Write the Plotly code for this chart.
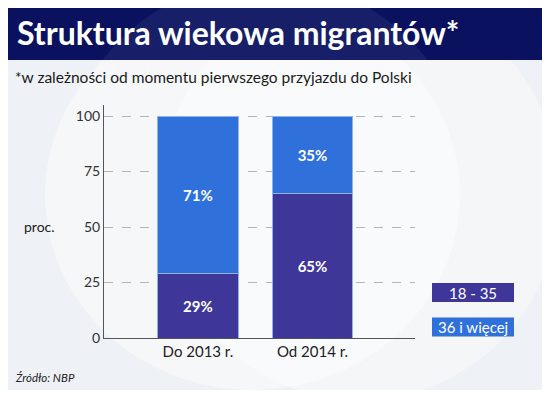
import plotly.graph_objects as go

categories = ["Do 2013 r.", "Od 2014 r."]
young = [29, 65]      # 18 - 35
older = [71, 35]      # 36 i więcej
series_names = ["18 - 35", "36 i więcej"]
y_ticks = [0, 25, 50, 75, 100]

C_YOUNG = "#3f3699"
C_OLD = "#2f70db"
FONT = "Lato"

# page has an 8px body margin -> figure origin at page (8, 8)
OFF = 8
W, H = 550 - OFF, 398 - OFF
PL, PR, PT, PB = 104, 415, 105, 338          # plot area in page pixels


def px(x):
    return (x - PL) / (PR - PL)


def py(y):
    return (PB - y) / (PB - PT)


fig = go.Figure()
fig.add_bar(x=[0, 1], y=young, name=series_names[0], marker_color=C_YOUNG,
            marker_line=dict(color="#8fb2ee", width=1),
            text=[f"{v}%" for v in young], textposition="inside", insidetextanchor="middle",
            textfont=dict(color="white", size=15, family=FONT, weight="bold"),
            width=0.70, showlegend=False)
fig.add_bar(x=[0, 1], y=older, name=series_names[1], marker_color=C_OLD,
            marker_line=dict(color="#8fb2ee", width=1),
            text=[f"{v}%" for v in older], textposition="inside", insidetextanchor="middle",
            textfont=dict(color="white", size=15, family=FONT, weight="bold"),
            width=0.70, showlegend=False)

fig.update_layout(
    barmode="stack",
    width=W, height=H,
    margin=dict(l=PL - OFF, r=W - (PR - OFF), t=PT - OFF, b=H - (PB - OFF)),
    paper_bgcolor="white",
    plot_bgcolor="rgba(0,0,0,0)",
    font=dict(family=FONT, color="#222222"),
    xaxis=dict(range=[-0.82, 1.895], tickmode="array", tickvals=[0, 1], ticktext=categories,
               showgrid=False, zeroline=False, showline=True, linecolor="#555555",
               tickfont=dict(size=15, color="#222222"), ticks=""),
    yaxis=dict(range=[0, 105], tickvals=y_ticks, showgrid=True, gridcolor="#b5b5b5",
               griddash="dash", gridwidth=1, zeroline=False, showline=True, linecolor="#555555",
               ticks="", tickfont=dict(size=14, color="#333333")),
)

# card background
fig.add_shape(type="rect", xref="paper", yref="paper", layer="below",
              x0=px(8), x1=px(542), y0=py(390), y1=py(0),
              fillcolor="#eef1f5", line_width=0)
# faint watermark circles
fig.add_shape(type="circle", xref="paper", yref="paper", layer="below",
              x0=px(45), x1=px(460), y0=py(390), y1=py(0),
              fillcolor="rgba(255,255,255,0.45)", line_width=0)
fig.add_shape(type="circle", xref="paper", yref="paper", layer="below",
              x0=px(160), x1=px(560), y0=py(400), y1=py(-10),
              fillcolor="rgba(255,255,255,0.35)", line_width=0)
# title bar
fig.add_shape(type="rect", xref="paper", yref="paper", layer="below",
              x0=px(8), x1=px(542), y0=py(60), y1=py(0),
              fillcolor="#0a1260", line_width=0)
fig.add_shape(type="circle", xref="paper", yref="paper", layer="below",
              x0=px(60), x1=px(470), y0=py(390), y1=py(-20),
              fillcolor="rgba(255,255,255,0.06)", line_width=0)

fig.add_annotation(text="Struktura wiekowa migrantów*", xref="paper", yref="paper",
                   x=px(15), y=py(32), xanchor="left", yanchor="middle",
                   showarrow=False, font=dict(family=FONT, size=32, color="white", weight="bold"))
fig.add_annotation(text="*w zależności od momentu pierwszego przyjazdu do Polski",
                   xref="paper", yref="paper", x=px(13), y=py(77),
                   xanchor="left", yanchor="middle", showarrow=False,
                   font=dict(family=FONT, size=15.5, color="#1a1a1a"))
fig.add_annotation(text="proc.", xref="paper", yref="paper", x=px(22), y=py(226),
                   xanchor="left", yanchor="middle", showarrow=False,
                   font=dict(family=FONT, size=14, color="#222222"))
fig.add_annotation(text="<i>Źródło: NBP</i>", xref="paper", yref="paper", x=px(13),
                   y=py(377), xanchor="left", yanchor="middle", showarrow=False,
                   font=dict(family=FONT, size=11.5, color="#222222"))

# legend boxes
for name, col, yc in [(series_names[0], C_YOUNG, 292.5), (series_names[1], C_OLD, 327)]:
    fig.add_shape(type="rect", xref="paper", yref="paper",
                  x0=px(432), x1=px(514), y0=py(yc + 9.5), y1=py(yc - 9.5),
                  fillcolor=col, line_width=0)
    fig.add_annotation(text=name, xref="paper", yref="paper", x=px(473),
                       y=py(yc), xanchor="center", yanchor="middle", showarrow=False,
                       font=dict(family=FONT, size=15, color="white"))

fig.write_html("out.html")
